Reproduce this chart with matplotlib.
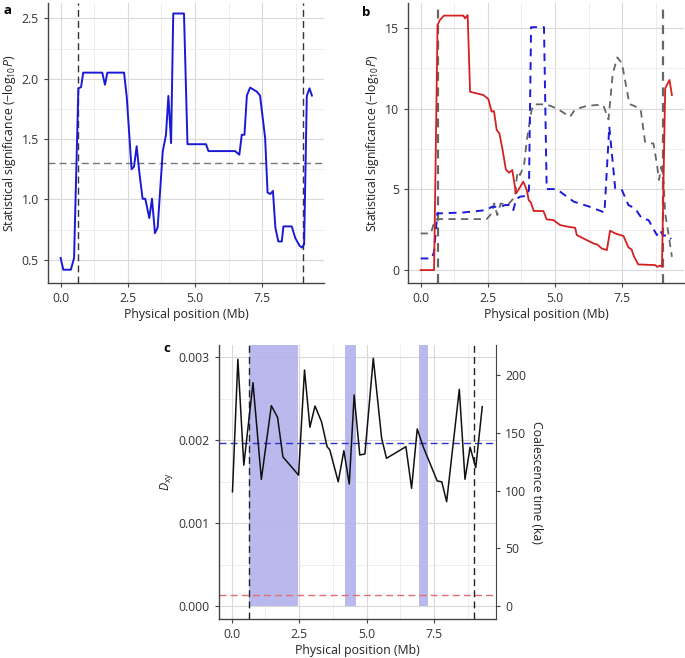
import numpy as np
import matplotlib
matplotlib.use("Agg")
import matplotlib.pyplot as plt

plt.rcParams['font.family'] = ['Open Sans', 'DejaVu Sans']
plt.rcParams['mathtext.fontset'] = 'custom'
plt.rcParams['mathtext.rm'] = 'Open Sans'
plt.rcParams['mathtext.it'] = 'Open Sans:italic'

# panel a: statistical significance
a_x = [0.0, 0.1, 0.38, 0.5, 0.66, 0.76, 0.84, 1.55, 1.65, 1.74, 2.36, 2.46, 2.64, 2.73,
       2.83, 2.93, 3.05, 3.15, 3.3, 3.4, 3.51, 3.61, 3.8, 3.92, 4.01, 4.11, 4.19, 4.59,
       4.72, 5.41, 5.5, 6.49, 6.65, 6.74, 6.84, 6.93, 7.05, 7.3, 7.42, 7.61, 7.7, 7.8,
       7.9, 7.99, 8.1, 8.23, 8.29, 8.6, 8.73, 8.89, 8.98, 9.06, 9.16, 9.26, 9.35]
a_y = [0.514, 0.417, 0.417, 0.514, 1.92, 1.93, 2.05, 2.05, 1.95, 2.05, 2.05, 1.85, 1.25, 1.27,
       1.44, 1.22, 1.005, 1.005, 0.845, 1.005, 0.72, 0.767, 1.397, 1.535, 1.857, 1.466, 2.54, 2.54,
       1.457, 1.457, 1.40, 1.40, 1.37, 1.535, 1.535, 1.86, 1.926, 1.893, 1.86, 1.507, 1.057, 1.044,
       1.07, 0.767, 0.651, 0.651, 0.776, 0.776, 0.68, 0.616, 0.60, 0.627, 1.857, 1.92, 1.86]

# panel b: three tests
red_x = [0.0, 0.5, 0.63, 0.72, 0.87, 1.59, 1.65, 1.75, 1.84, 2.33, 2.52, 2.64, 2.73, 2.83, 2.93,
         3.04, 3.17, 3.29, 3.41, 3.55, 3.67, 3.82, 3.95, 4.02, 4.1, 4.21, 4.57, 4.69, 4.94, 5.19,
         5.44, 5.75, 5.81, 6.43, 6.58, 6.74, 6.93, 7.05, 7.24, 7.55, 7.73, 7.85, 7.94, 8.1, 8.73,
         8.8, 8.9, 8.98, 9.1, 9.26, 9.35]
red_y = [0.0, 0.0, 15.19, 15.5, 15.77, 15.77, 15.6, 15.8, 11.05, 10.85, 10.6, 9.82, 9.85, 8.68, 8.47,
         7.54, 6.24, 6.03, 6.2, 4.75, 5.06, 5.48, 4.96, 4.34, 4.2, 3.66, 3.66, 3.14, 3.1, 2.79,
         2.7, 2.62, 2.17, 1.65, 1.58, 1.34, 1.24, 2.44, 2.27, 2.11, 1.41, 1.28, 0.83, 0.35, 0.31,
         0.2, 0.28, 0.2, 11.26, 11.78, 10.85]
blue_x = [0.0, 0.41, 0.5, 0.62, 1.59, 2.46, 2.64, 2.98, 3.14, 3.33, 3.45, 3.55, 3.7, 3.95, 4.03,
          4.11, 4.59, 4.69, 5.06, 5.44, 5.7, 6.3, 6.84, 7.02, 7.24, 7.49, 7.73, 7.98, 8.23, 8.48,
          8.79, 8.9, 9.03, 9.2, 9.32]
blue_y = [0.72, 0.72, 1.13, 3.51, 3.57, 3.72, 3.92, 3.92, 4.03, 4.03, 3.72, 4.38, 4.55, 4.6, 4.96,
          15.05, 15.05, 5.02, 5.02, 4.55, 4.24, 3.92, 3.57, 8.89, 5.06, 4.96, 4.03, 3.82, 3.2, 3.1,
          2.17, 2.48, 2.13, 2.17, 1.92]
grey_x = [0.0, 0.38, 0.53, 0.62, 2.46, 2.64, 2.74, 2.85, 2.98, 3.24, 3.51, 3.6, 3.7, 3.85, 3.95,
          4.13, 4.22, 4.68, 5.06, 5.56, 5.75, 6.18, 6.55, 6.8, 6.99, 7.15, 7.32, 7.49, 7.77, 7.98,
          8.19, 8.35, 8.6, 8.66, 8.79, 8.87, 8.95, 9.04, 9.1, 9.22, 9.35]
grey_y = [2.27, 2.27, 3.1, 3.16, 3.16, 3.51, 4.13, 3.41, 4.13, 4.03, 4.55, 6.1, 5.89, 6.51, 8.06,
          9.92, 10.27, 10.27, 10.02, 9.5, 9.96, 10.17, 10.23, 10.2, 9.34, 12.19, 13.18, 12.81, 10.29, 10.15,
          9.92, 7.95, 7.85, 7.85, 6.61, 5.58, 6.4, 5.4, 3.51, 2.27, 0.82]

# panel c: Dxy
c_x = [0.03, 0.23, 0.45, 0.79, 1.1, 1.47, 1.7, 1.9, 2.48, 2.7, 2.9, 3.09, 3.33, 3.54, 3.64, 3.95,
       4.16, 4.36, 4.54, 4.75, 4.94, 5.25, 5.56, 5.74, 6.46, 6.67, 6.88, 7.1, 7.62, 7.79, 7.97,
       8.44, 8.65, 8.84, 9.05, 9.29]
c_y = [0.00138, 0.002976, 0.0017, 0.002694, 0.00153, 0.002417, 0.002277, 0.0018, 0.00158, 0.002847,
       0.002157, 0.002413, 0.002224, 0.001923, 0.001883, 0.0015, 0.001875, 0.001473, 0.002546,
       0.001823, 0.001835, 0.002988, 0.002024, 0.001783, 0.001923, 0.001422, 0.002136, 0.001923,
       0.00151, 0.0015, 0.00126, 0.002614, 0.00153, 0.001916, 0.00167, 0.002405]
shade_regions = [(0.65, 2.46), (4.19, 4.6), (6.94, 7.29)]
boundaries = [0.66, 9.0]
dxy_mean = 0.00197
dxy_low = 0.000133
ka_per_dxy = 71770

FS = 8.8
fig = plt.figure(figsize=(6.85, 6.58), dpi=100)
W, H = 685, 658

def add_axes(l, r, t, b):
    return fig.add_axes([l / W, 1 - b / H, (r - l) / W, (b - t) / H])

def style(ax, xmaj, ymin):
    ax.set_xlim(-0.47, 9.8)
    ax.set_xticks(xmaj)
    ax.set_xticklabels([f'{v:.1f}' for v in xmaj])
    ax.set_xticks([1.25, 3.75, 6.25, 8.75], minor=True)
    ax.set_yticks(ymin, minor=True)
    ax.grid(True, which='major', color='#d9d9d9', lw=0.8)
    ax.grid(True, which='minor', color='#ebebeb', lw=0.6)
    ax.set_axisbelow(True)
    for s in ['top', 'right']:
        ax.spines[s].set_visible(False)
    for s in ['left', 'bottom']:
        ax.spines[s].set_color('#444444')
        ax.spines[s].set_linewidth(1.0)
    ax.tick_params(which='major', length=3, color='#444444', labelsize=FS, labelcolor='#333333')
    ax.tick_params(which='minor', length=0)
    ax.set_xlabel('Physical position (Mb)', fontsize=FS, color='#222222', labelpad=2)

ylab = 'Statistical significance (−log$_{10}$$\\mathit{P}$)'

# a
ax = add_axes(48, 324, 3, 283)
style(ax, [0, 2.5, 5, 7.5], [0.75, 1.25, 1.75, 2.25])
ax.set_ylim(0.307, 2.627)
ax.set_yticks([0.5, 1.0, 1.5, 2.0, 2.5])
ax.set_yticklabels(['0.5', '1.0', '1.5', '2.0', '2.5'])
ax.axhline(1.301, color='#777777', ls=(0, (5, 3)), lw=1.0)
for b in boundaries:
    ax.axvline(b, color='#333333', ls=(0, (5, 3)), lw=1.0)
ax.plot(a_x, a_y, color='#1a1ad6', lw=1.4)
ax.set_ylabel(ylab, fontsize=FS, color='#222222', labelpad=3)
fig.text(3 / W, 1 - 10 / H, 'a', fontsize=9.5, fontweight='bold', va='center')

# b
ax = add_axes(408, 684, 3, 283)
style(ax, [0, 2.5, 5, 7.5], [2.5, 7.5, 12.5])
ax.set_ylim(-0.8, 16.55)
ax.set_yticks([0, 5, 10, 15])
for b in boundaries:
    ax.axvline(b, color='#666666', ls=(0, (4, 3)), lw=1.6)
ax.plot(grey_x, grey_y, color='#666666', lw=1.3, ls=(0, (4, 3)))
ax.plot(blue_x, blue_y, color='#1c1cd8', lw=1.4, ls=(0, (4, 3)))
ax.plot(red_x, red_y, color='#d42020', lw=1.3)
ax.set_ylabel(ylab, fontsize=FS, color='#222222', labelpad=3)
fig.text(362 / W, 1 - 12 / H, 'b', fontsize=9.5, fontweight='bold', va='center')

# c
ax = add_axes(219, 496, 345, 619)
style(ax, [0, 2.5, 5, 7.5], [0.0005, 0.0015, 0.0025])
ax.set_ylim(-0.000153, 0.003148)
ax.set_yticks([0, 0.001, 0.002, 0.003])
ax.set_yticklabels(['0.000', '0.001', '0.002', '0.003'])
for l, r in shade_regions:
    ax.fill_between([l, r], 0, 0.003148, color='#b2b2ec', alpha=0.9, lw=0, zorder=1.5)
ax.axhline(dxy_mean, color='#3030d0', ls=(0, (5, 3)), lw=1.0, zorder=2)
ax.axhline(dxy_low, color='#e07070', ls=(0, (5, 3)), lw=1.0, zorder=2)
for b in boundaries:
    ax.axvline(b, color='#222222', ls=(0, (5, 3)), lw=1.0, zorder=2)
ax.plot(c_x, c_y, color='#111111', lw=1.1, zorder=3)
ax.set_ylabel('$\\mathit{D}_{\\mathrm{xy}}$', fontsize=FS, color='#222222', labelpad=3)
ax2 = ax.twinx()
ax2.set_ylim(-0.000153 * ka_per_dxy, 0.003148 * ka_per_dxy)
ax2.set_yticks([0, 50, 100, 150, 200])
for s in ['top', 'left', 'bottom']:
    ax2.spines[s].set_visible(False)
ax2.spines['right'].set_color('#444444')
ax2.tick_params(length=3, color='#444444', labelsize=FS, labelcolor='#333333')
ax2.set_ylabel('Coalescence time (ka)', fontsize=FS, color='#222222', rotation=270, labelpad=12)
fig.text(163 / W, 1 - 348 / H, 'c', fontsize=9.5, fontweight='bold', va='center')

fig.savefig('out.png', dpi=100)
